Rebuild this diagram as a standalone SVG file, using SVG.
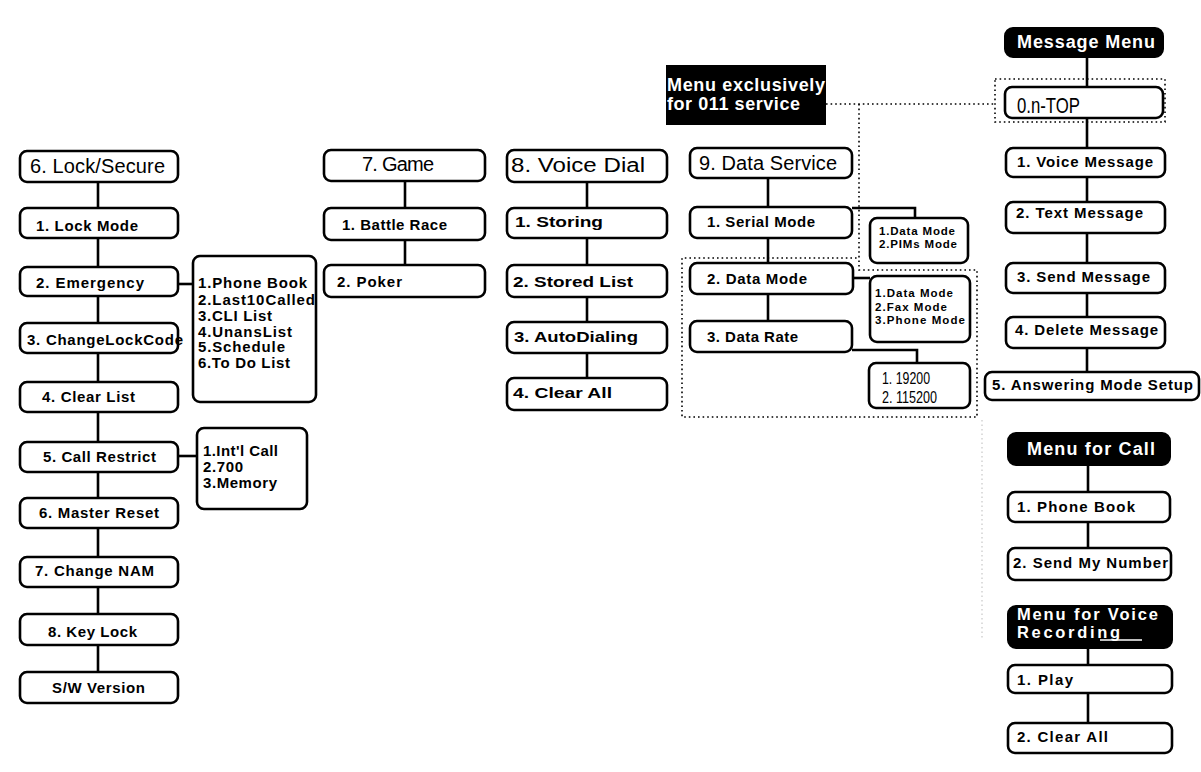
<svg xmlns="http://www.w3.org/2000/svg" width="1201" height="772" viewBox="0 0 1201 772">
<style>
.b{fill:#fff;stroke:#000;stroke-width:2.6}
.k{fill:#000;stroke:#000;stroke-width:2}
text{font-family:"Liberation Sans",Arial,sans-serif;fill:#000}
.t{font-size:15px;font-weight:bold}
.tv{font-size:15px;font-weight:bold}
.h{font-size:20px}
.w{font-size:18px;font-weight:bold;fill:#fff}
.w2{font-size:16.5px;font-weight:bold;fill:#fff}
.s{font-size:11.5px;font-weight:bold}
.n{font-size:16px}
.c{stroke:#000;stroke-width:2.6;fill:none}
.d{stroke:#000;stroke-width:1.6;stroke-dasharray:1.6 3;fill:none}
</style>
<rect width="1201" height="772" fill="#fff"/>
<g id="connectors">
<path class="c" d="M98,182V672"/>
<path class="c" d="M178,284H193"/>
<path class="c" d="M178,456H197"/>
<path class="c" d="M405,181V265"/>
<path class="c" d="M587,182V378"/>
<path class="c" d="M768,178V321"/>
<path class="c" d="M852,208H915V218"/>
<path class="c" d="M853,278H870"/>
<path class="c" d="M852,350H917V363"/>
<path class="c" d="M1087,57V372"/>
<path class="c" d="M1088,465V548"/>
<path class="c" d="M1088,648V723"/>
<path class="d" d="M826,104H995"/>
<path class="d" d="M859,104V270H977V417H682V258H859"/>
<rect class="d" x="995" y="79" width="170" height="43"/>
<path d="M982,420V640" stroke="#bbb" stroke-width="1" stroke-dasharray="1.5 3"/>
</g>
<g id="n-lock"><rect class="b" x="20" y="151" width="158" height="31" rx="7"/><text class="h" x="30" y="173" textLength="135">6. Lock/Secure</text></g>
<g id="n-lockmode"><rect class="b" x="20" y="208" width="158" height="30" rx="7"/><text class="t" x="36" y="231" textLength="102">1. Lock Mode</text></g>
<g id="n-emergency"><rect class="b" x="20" y="267" width="158" height="29" rx="7"/><text class="t" x="36" y="288" textLength="108">2. Emergency</text></g>
<g id="n-changelock"><rect class="b" x="20" y="323" width="158" height="30" rx="7"/><text class="t" x="27" y="345" textLength="156">3. ChangeLockCode</text></g>
<g id="n-clearlist"><rect class="b" x="20" y="382" width="158" height="30" rx="7"/><text class="t" x="42" y="402" textLength="93">4. Clear List</text></g>
<g id="n-callrestrict"><rect class="b" x="20" y="442" width="158" height="30" rx="7"/><text class="t" x="43" y="462" textLength="113">5. Call Restrict</text></g>
<g id="n-masterreset"><rect class="b" x="20" y="498" width="158" height="30" rx="7"/><text class="t" x="39" y="518" textLength="120">6. Master Reset</text></g>
<g id="n-changenam"><rect class="b" x="20" y="557" width="158" height="30" rx="7"/><text class="t" x="35" y="576" textLength="119">7. Change NAM</text></g>
<g id="n-keylock"><rect class="b" x="20" y="614" width="158" height="31" rx="7"/><text class="t" x="48" y="637" textLength="89">8. Key Lock</text></g>
<g id="n-swversion"><rect class="b" x="20" y="672" width="158" height="31" rx="7"/><text class="t" x="52" y="693" textLength="93">S/W Version</text></g>
<g id="n-emergency-sub"><rect class="b" x="193" y="256" width="123" height="146" rx="7"/>
<text class="t" x="198" y="288" textLength="109">1.Phone Book</text>
<text class="t" x="198" y="305" textLength="117">2.Last10Called</text>
<text class="t" x="198" y="321" textLength="74">3.CLI List</text>
<text class="t" x="198" y="337" textLength="94">4.UnansList</text>
<text class="t" x="198" y="352" textLength="87">5.Schedule</text>
<text class="t" x="198" y="368" textLength="92">6.To Do List</text></g>
<g id="n-callrestrict-sub"><rect class="b" x="197" y="428" width="110" height="81" rx="7"/>
<text class="t" x="203" y="456" textLength="75">1.Int'l Call</text>
<text class="t" x="203" y="472" textLength="40">2.700</text>
<text class="t" x="203" y="488" textLength="74">3.Memory</text></g>
<g id="n-game"><rect class="b" x="324" y="150" width="161" height="31" rx="7"/><text class="h" x="362" y="171" textLength="72">7. Game</text></g>
<g id="n-battlerace"><rect class="b" x="324" y="208" width="161" height="32" rx="7"/><text class="t" x="342" y="230" textLength="105">1. Battle Race</text></g>
<g id="n-poker"><rect class="b" x="324" y="265" width="161" height="32" rx="7"/><text class="t" x="337" y="287" textLength="65">2. Poker</text></g>
<g id="n-voicedial"><rect class="b" x="507" y="150" width="160" height="32" rx="7"/><text class="h" x="511" y="172" textLength="134" lengthAdjust="spacingAndGlyphs">8. Voice Dial</text></g>
<g id="n-storing"><rect class="b" x="507" y="208" width="160" height="30" rx="7"/><text class="tv" x="515" y="227" textLength="88" lengthAdjust="spacingAndGlyphs">1. Storing</text></g>
<g id="n-storedlist"><rect class="b" x="507" y="265" width="160" height="32" rx="7"/><text class="tv" x="513" y="287" textLength="120" lengthAdjust="spacingAndGlyphs">2. Stored List</text></g>
<g id="n-autodialing"><rect class="b" x="507" y="322" width="160" height="31" rx="7"/><text class="tv" x="514" y="342" textLength="124" lengthAdjust="spacingAndGlyphs">3. AutoDialing</text></g>
<g id="n-clearall"><rect class="b" x="507" y="378" width="160" height="32" rx="7"/><text class="tv" x="513" y="398" textLength="99" lengthAdjust="spacingAndGlyphs">4. Clear All</text></g>
<g id="n-exclusive"><rect x="666" y="65" width="160" height="60" fill="#000"/>
<text class="w" x="667" y="91" textLength="158">Menu exclusively</text>
<text class="w" x="667" y="110" textLength="133">for 011 service</text></g>
<g id="n-dataservice"><rect class="b" x="690" y="148" width="162" height="30" rx="7"/><text class="h" x="699" y="170" textLength="138">9. Data Service</text></g>
<g id="n-serialmode"><rect class="b" x="690" y="207" width="162" height="31" rx="7"/><text class="t" x="707" y="227" textLength="108">1. Serial Mode</text></g>
<g id="n-datamode"><rect class="b" x="690" y="263" width="163" height="31" rx="7"/><text class="t" x="707" y="284" textLength="100">2. Data Mode</text></g>
<g id="n-datarate"><rect class="b" x="690" y="321" width="162" height="31" rx="7"/><text class="t" x="707" y="342" textLength="91">3. Data Rate</text></g>
<g id="n-serial-sub"><rect class="b" x="870" y="218" width="98" height="45" rx="7"/>
<text class="s" x="879" y="235" textLength="76">1.Data Mode</text>
<text class="s" x="879" y="248" textLength="78">2.PIMs Mode</text></g>
<g id="n-datamode-sub"><rect class="b" x="870" y="276" width="100" height="66" rx="7"/>
<text class="s" x="875" y="297" textLength="78">1.Data Mode</text>
<text class="s" x="875" y="311" textLength="72">2.Fax Mode</text>
<text class="s" x="875" y="324" textLength="90">3.Phone Mode</text></g>
<g id="n-datarate-sub"><rect class="b" x="869" y="363" width="101" height="45" rx="7"/>
<text class="n" x="882" y="384" textLength="48" lengthAdjust="spacingAndGlyphs">1. 19200</text>
<text class="n" x="882" y="403" textLength="55" lengthAdjust="spacingAndGlyphs">2. 115200</text></g>
<g id="n-messagemenu"><rect class="k" x="1005" y="28" width="158" height="29" rx="8"/><text class="w" x="1017" y="48" textLength="138">Message Menu</text></g>
<g id="n-ntop"><rect class="b" x="1005" y="87" width="158" height="31" rx="7"/><text x="1017" y="113" font-size="22" textLength="63" lengthAdjust="spacingAndGlyphs">0.n-TOP</text></g>
<g id="n-voicemsg"><rect class="b" x="1006" y="148" width="159" height="29" rx="7"/><text class="t" x="1017" y="167" textLength="136">1. Voice Message</text></g>
<g id="n-textmsg"><rect class="b" x="1006" y="202" width="159" height="31" rx="7"/><text class="t" x="1016" y="218" textLength="127">2. Text Message</text></g>
<g id="n-sendmsg"><rect class="b" x="1006" y="263" width="159" height="30" rx="7"/><text class="t" x="1017" y="282" textLength="133">3. Send Message</text></g>
<g id="n-deletemsg"><rect class="b" x="1006" y="317" width="159" height="31" rx="7"/><text class="t" x="1015" y="335" textLength="143">4. Delete Message</text></g>
<g id="n-answering"><rect class="b" x="985" y="372" width="214" height="28" rx="7"/><text class="t" x="992" y="390" textLength="201">5. Answering Mode Setup</text></g>
<g id="n-menucall"><rect class="k" x="1008" y="433" width="162" height="32" rx="8"/><text class="w" x="1027" y="455" textLength="128">Menu for Call</text></g>
<g id="n-phonebook"><rect class="b" x="1008" y="492" width="162" height="30" rx="7"/><text class="t" x="1017" y="512" textLength="118">1. Phone Book</text></g>
<g id="n-sendnumber"><rect class="b" x="1008" y="548" width="163" height="32" rx="7"/><text class="t" x="1013" y="568" textLength="155">2. Send My Number</text></g>
<g id="n-menuvoice"><rect class="k" x="1008" y="606" width="164" height="42" rx="8"/>
<text class="w2" x="1017" y="620" textLength="141">Menu for Voice</text>
<text class="w2" x="1017" y="638" textLength="103">Recording</text>
<path d="M1100,640H1142" stroke="#fff" stroke-width="1.5"/></g>
<g id="n-play"><rect class="b" x="1008" y="665" width="164" height="28" rx="7"/><text class="t" x="1017" y="685" textLength="56">1. Play</text></g>
<g id="n-clearall2"><rect class="b" x="1008" y="723" width="164" height="30" rx="7"/><text class="t" x="1017" y="742" textLength="91">2. Clear All</text></g>
</svg>
